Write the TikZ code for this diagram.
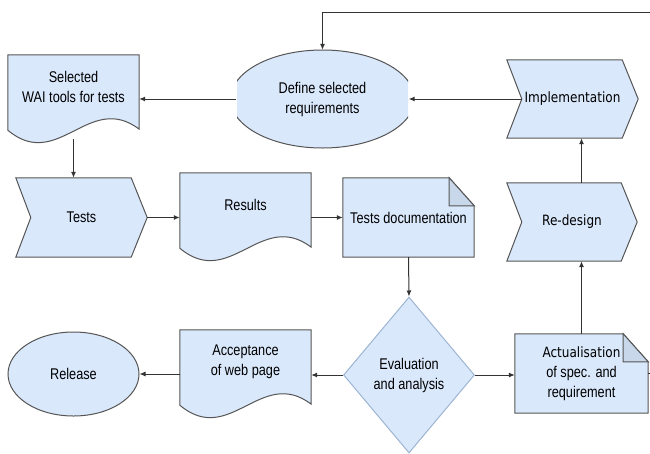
\documentclass[tikz,border=0pt]{standalone}
\usepackage{fontspec}
\setmainfont{Liberation Sans}[FakeStretch=0.82]
\newfontfamily\dejafont{DejaVu Sans}[FakeStretch=0.85]
\usepackage{xcolor}
\usepackage{tikz}
\usetikzlibrary{shapes.geometric,arrows.meta,backgrounds}
\definecolor{boxfill}{HTML}{DAE8FC}
\definecolor{boxline}{HTML}{555555}
\definecolor{foldfill}{HTML}{C9D7EB}
\definecolor{dialine}{HTML}{9DB4D2}
\definecolor{flowline}{HTML}{333333}
\newcommand\stepfont{\dejafont\fontsize{14.2}{18}\selectfont}
\tikzset{every picture/.append style={font=\fontsize{15.5}{20}\selectfont}}
\tikzset{
  box/.style={fill=boxfill,draw=boxline,line width=1pt},
  txt/.style={inner sep=0pt,align=center},
  flow/.style={draw=flowline,line width=1pt,-{Latex[length=6pt,width=5pt]}},
}
% document sheet with wavy bottom
\newcommand\docshape[1]{%
  \draw[box] (#1.north west) -- (#1.north east) -- ([yshift=-10pt]#1.south east)
    .. controls +(-50pt,38pt) and +(50pt,-42pt) .. ([yshift=-11pt]#1.south west) -- cycle;}
% note with folded corner
\newcommand\noteshape[1]{%
  \draw[box] (#1.south west) -- (#1.north west) -- ([xshift=-25pt]#1.north east)
    -- ([yshift=-28pt]#1.north east) -- (#1.south east) -- cycle;
  \draw[box,fill=foldfill] ([xshift=-25pt]#1.north east) -- ([xshift=-25pt,yshift=-28pt]#1.north east)
    -- ([yshift=-28pt]#1.north east) -- cycle;}
% process step (chevron)
\newcommand\stepshape[1]{%
  \draw[box] (#1.north west) -- ([xshift=-16pt]#1.north east) -- (#1.east)
    -- ([xshift=-16pt]#1.south east) -- (#1.south west) -- ([xshift=15pt]#1.west) -- cycle;}

\begin{document}
\begin{tikzpicture}[x=1pt,y=-1pt]
  \useasboundingbox (0,0) rectangle (650,453);
  % top row
  \node[txt,minimum width=131pt,minimum height=64pt] (wai) at (73.5,87) {Selected\\WAI tools for tests};
  \node[txt,ellipse,minimum width=172pt,minimum height=98pt] (define) at (322.5,99) {Define selected\\requirements};
  \node[txt,minimum width=131pt,minimum height=78pt] (impl) at (572.5,99) {\stepfont Implementation};
  % middle row
  \node[txt,minimum width=131pt,minimum height=79pt] (tests) at (81.5,217.5) {Tests};
  \node[txt,minimum width=131pt,minimum height=64pt] (results) at (245.5,205) {Results};
  \node[txt,minimum width=131pt,minimum height=79pt] (testdoc) at (408.5,217.5) {Tests documentation};
  \node[txt,minimum width=130pt,minimum height=78pt] (redesign) at (572,222) {\stepfont Re-design};
  % bottom row
  \node[txt,box,ellipse,minimum width=131pt,minimum height=84pt] (release) at (73.5,374) {Release};
  \node[txt,minimum width=131pt,minimum height=64pt] (accept) at (245.5,362) {Acceptance\\of web page};
  \node[txt,diamond,fill=boxfill,draw=dialine,line width=1pt,minimum width=131pt,minimum height=156pt] (eval) at (409,375) {Evaluation\\and analysis};
  \node[txt,minimum width=133pt,minimum height=79pt] (actual) at (581.5,373.5) {\stepfont Actualisation\\of spec. and\\requirement};
  \coordinate (loopR) at (650,12);
  \coordinate (stubR) at (650,373.5);

  \begin{scope}[on background layer]
    \docshape{wai}
    \docshape{results}
    \docshape{accept}
    \noteshape{testdoc}
    \noteshape{actual}
    \stepshape{tests}
    \stepshape{impl}
    \stepshape{redesign}
    \begin{scope}
      \clip (237,40) rectangle (408,160);
      \draw[box] (322.5,99) ellipse [x radius=92, y radius=49];
    \end{scope}
  \end{scope}

  % connectors
  \draw[flow] (loopR) -| (define.north);
  \draw[flow] (define.west) -- (define.west -| wai.east);
  \draw[flow] ([xshift=15pt]impl.west) -- (define.east);
  \draw[flow] (redesign.north -| actual.north) -- (actual.north |- impl.south);
  \draw[flow] ([yshift=-20pt]wai.south) -- (wai.south |- tests.north);
  \draw[flow] (tests.east) -- (results.west |- tests.east);
  \draw[flow] (results.east |- testdoc.west) -- (testdoc.west);
  \draw[flow] (testdoc.south) -- (eval.north);
  \draw[flow] (actual.north) -- (actual.north |- redesign.south);
  \draw[flow] (eval.east) -- (actual.west |- eval.east);
  \draw[flow] (eval.west) -- (accept.east |- eval.west);
  \draw[flow] (accept.west |- release.east) -- (release.east);
  \draw[draw=flowline,line width=1pt] (actual.east) -- (stubR);
\end{tikzpicture}
\end{document}
